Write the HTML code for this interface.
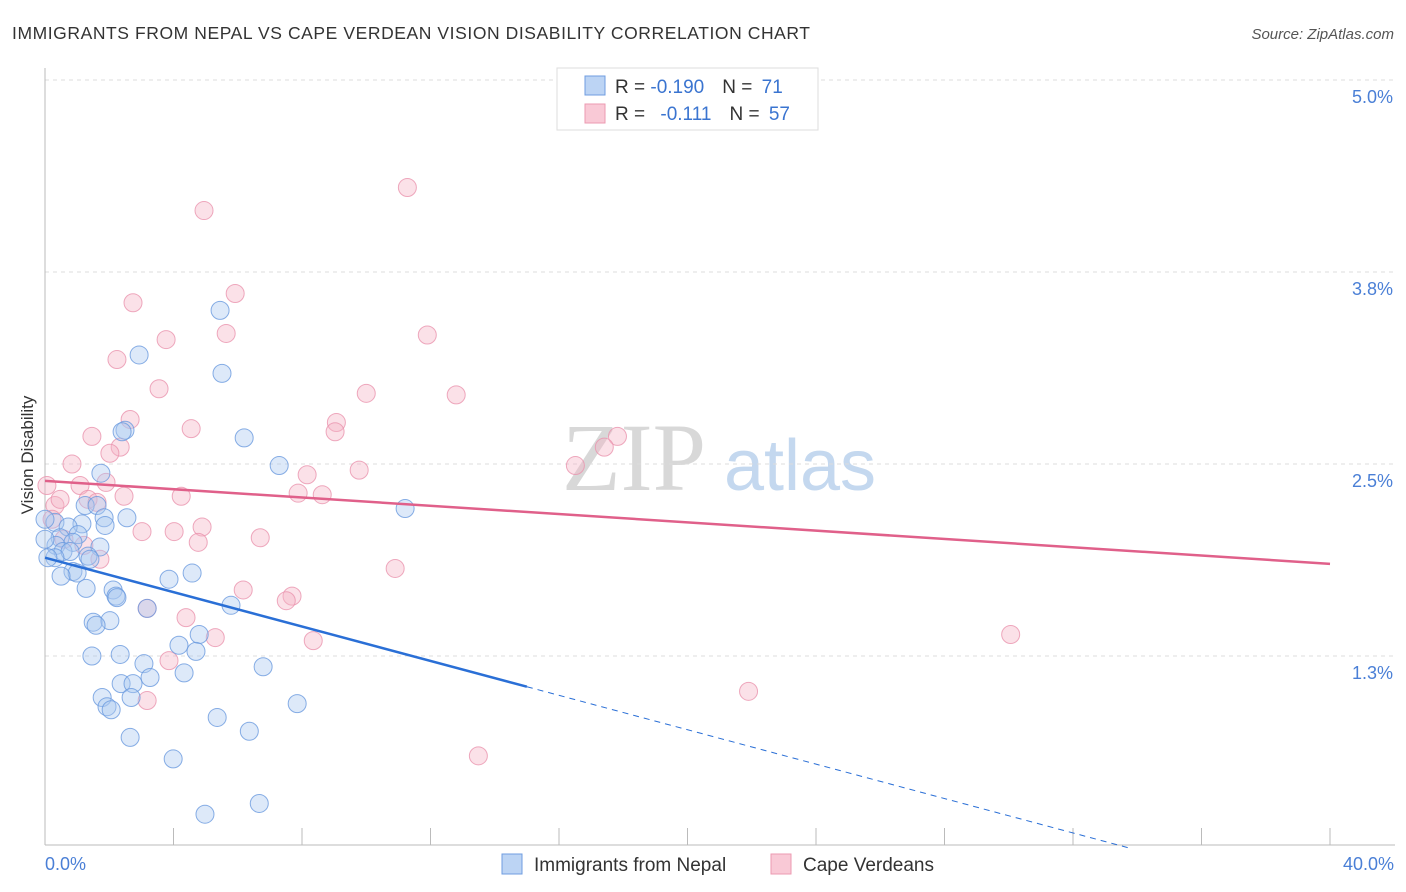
<!DOCTYPE html>
<html><head><meta charset="utf-8">
<style>
body{margin:0;background:#fff;font-family:"Liberation Sans",sans-serif;}
#wrap{position:relative;width:1406px;height:892px;overflow:hidden;}
</style></head>
<body>
<div id="wrap">
<svg id="chart" width="1406" height="892" xmlns="http://www.w3.org/2000/svg">
  <text x="12" y="39" font-size="17.5" fill="#333" textLength="798">IMMIGRANTS FROM NEPAL VS CAPE VERDEAN VISION DISABILITY CORRELATION CHART</text>
  <text x="1394" y="39" font-size="15" fill="#555" font-style="italic" text-anchor="end">Source: ZipAtlas.com</text>
  <g>
    <text x="634" y="490" font-size="96" fill="#d8d8d8" font-family="Liberation Serif,serif" text-anchor="middle">ZIP</text>
    <text x="800" y="490" font-size="72" fill="#c4d8ef" text-anchor="middle">atlas</text>
  </g>
  <g id="grid"></g>
  <g id="axes"></g>
  <g id="pts"></g>
  <g id="trend"></g>
  <text x="35" y="455" font-size="17" fill="#333" text-anchor="middle" transform="rotate(-90 35 455)" dy="-2">Vision Disability</text>
  <text x="45" y="870" font-size="18" fill="#4a7fd6">0.0%</text>
  <text x="1394" y="870" font-size="18" fill="#4a7fd6" text-anchor="end">40.0%</text>
  <g>
    <rect x="557" y="68" width="261" height="62" fill="#fff" stroke="#ddd"/>
    <rect x="585" y="76" width="20" height="19" fill="#bcd4f4" stroke="#6f9de0"/>
    <rect x="585" y="104" width="20" height="19" fill="#f9c9d6" stroke="#ec9ab1"/>
    <text x="615" y="93" font-size="19" fill="#333">R = <tspan fill="#3a74d0">-0.190</tspan><tspan dx="18" fill="#333">N = </tspan><tspan fill="#3a74d0" dx="4">71</tspan></text>
    <text x="615" y="120" font-size="19" fill="#333">R = <tspan fill="#3a74d0" dx="10">-0.111</tspan><tspan dx="18" fill="#333">N = </tspan><tspan fill="#3a74d0" dx="4">57</tspan></text>
  </g>
  <g>
    <rect x="502" y="854" width="20" height="20" fill="#bcd4f4" stroke="#6f9de0"/>
    <text x="534" y="871" font-size="19" fill="#333">Immigrants from Nepal</text>
    <rect x="771" y="854" width="20" height="20" fill="#f9c9d6" stroke="#ec9ab1"/>
    <text x="803" y="871" font-size="19" fill="#333">Cape Verdeans</text>
  </g>
</svg>
</div>
<script>
const yTicks=[5.0,3.75,2.5,1.25];
const yTickLabels=["5.0%","3.8%","2.5%","1.3%"];
const xTicks=[4,8,12,16,20,24,28,32,36,40];
const nepalX=[5.45,2.93,5.51,2.49,2.40,6.20,7.29,1.74,11.21,1.25,1.62,2.55,1.84,1.15,1.87,0.31,0.72,1.03,0.47,0.87,0.34,1.71,0.56,1.34,0.78,0.31,1.40,0.87,1.00,0.50,4.58,3.86,1.28,2.12,2.21,2.24,5.79,3.18,1.50,2.02,1.59,4.80,4.17,4.70,1.46,2.34,6.79,3.08,4.33,3.27,2.37,2.74,1.78,2.68,7.85,1.93,2.06,5.36,6.36,2.65,3.99,6.67,4.98,0.0,0.09,0.0];
const nepalY=[3.50,3.21,3.09,2.72,2.71,2.67,2.49,2.44,2.21,2.23,2.23,2.15,2.15,2.11,2.10,2.12,2.09,2.04,2.02,1.99,1.97,1.96,1.93,1.90,1.93,1.89,1.88,1.80,1.79,1.77,1.79,1.75,1.69,1.68,1.64,1.63,1.58,1.56,1.47,1.48,1.45,1.39,1.32,1.28,1.25,1.26,1.18,1.20,1.14,1.11,1.07,1.07,0.98,0.98,0.94,0.92,0.90,0.85,0.76,0.72,0.58,0.29,0.22,2.14,1.89,2.01];
const capeX=[11.28,4.95,5.92,2.74,3.77,5.64,11.90,2.24,3.55,10.00,12.80,2.65,9.07,4.55,9.03,1.46,17.82,2.34,2.02,17.41,0.84,16.51,9.78,8.16,1.90,1.09,7.88,8.63,2.46,4.24,1.34,1.62,0.31,4.89,3.02,4.02,6.70,4.77,1.71,10.90,6.17,7.69,7.51,3.18,4.39,5.30,8.35,30.06,3.86,3.18,21.90,13.49,0.06,0.22,0.47,0.59,1.21];
const capeY=[4.30,4.15,3.61,3.55,3.31,3.35,3.34,3.18,2.99,2.96,2.95,2.79,2.77,2.73,2.71,2.68,2.68,2.61,2.57,2.61,2.50,2.49,2.46,2.43,2.38,2.36,2.31,2.30,2.29,2.29,2.27,2.25,2.23,2.09,2.06,2.06,2.02,1.99,1.88,1.82,1.68,1.64,1.61,1.56,1.50,1.37,1.35,1.39,1.22,0.96,1.02,0.60,2.36,2.14,2.27,2.01,1.97];
const nepalTrend=[1.89,1.05];   // values at x=0 and x=15
const capeTrend=[2.39,1.85];    // values at x=0 and x=40

const X=v=>45+v*32.125;
const Y=v=>848-v*153.6;
const NS="http://www.w3.org/2000/svg";
function mk(tag,attrs,parent){const e=document.createElementNS(NS,tag);for(const k in attrs)e.setAttribute(k,attrs[k]);parent.appendChild(e);return e;}
const grid=document.getElementById('grid'),axes=document.getElementById('axes'),pts=document.getElementById('pts'),trend=document.getElementById('trend');
yTicks.forEach((t,i)=>{
  const l=mk('line',{x1:45,x2:1395,y1:Y(t),y2:Y(t),stroke:'#ddd','stroke-dasharray':'4,4'},grid);
  
  
  const tx=mk('text',{x:1393,y:Y(t)+23,'font-size':18,fill:'#4a7fd6','text-anchor':'end'},grid);
  tx.textContent=yTickLabels[i];
  
  
});
const ax=mk('line',{x1:45,x2:45,y1:68,y2:845,stroke:'#bbb'},axes);


const bx=mk('line',{x1:45,x2:1395,y1:845,y2:845,stroke:'#bbb'},axes);


xTicks.forEach(t=>{
  const l=mk('line',{x1:X(t),x2:X(t),y1:828,y2:845,stroke:'#bbb'},axes);
  
  
});
function dots(xs,ys,fill,stroke,name){
  xs.forEach((x,i)=>{
    const c=mk('circle',{cx:X(x),cy:Y(ys[i]),r:9,fill:fill,'fill-opacity':0.4,stroke:stroke,'stroke-width':1,'stroke-opacity':0.8},pts);
    
    
  });
}
dots(capeX,capeY,'#f6b3c6','#ea94ae','cape-verdean-point');
dots(nepalX,nepalY,'#a9c8f0','#6a9ade','nepal-point');
const slope=(nepalTrend[1]-nepalTrend[0])/15;
const bl=mk('line',{x1:X(0),y1:Y(nepalTrend[0]),x2:X(15),y2:Y(nepalTrend[1]),stroke:'#2a6fd6','stroke-width':2.5},trend);


const xe=-nepalTrend[0]/slope;
const bd=mk('line',{x1:X(15),y1:Y(nepalTrend[1]),x2:X(xe),y2:Y(0),stroke:'#2a6fd6','stroke-width':1,'stroke-dasharray':'6,5'},trend);


const pl=mk('line',{x1:X(0),y1:Y(capeTrend[0]),x2:X(40),y2:Y(capeTrend[1]),stroke:'#e0608a','stroke-width':2.5},trend);


</script>
</body></html>
